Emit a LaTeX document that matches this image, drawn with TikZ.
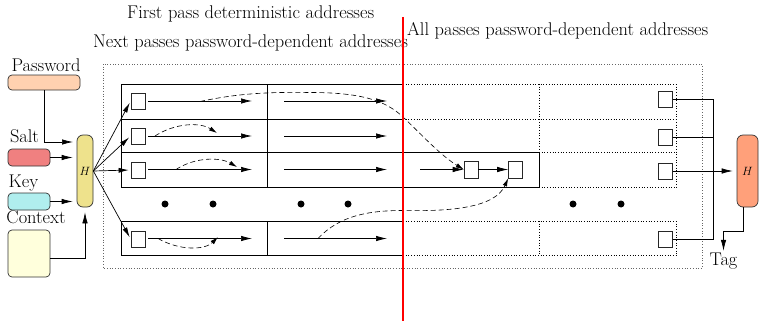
\documentclass[tikz,border=0pt]{standalone}
\usetikzlibrary{arrows.meta}
\definecolor{pwc}{HTML}{FFD1B0}
\definecolor{saltc}{HTML}{F08080}
\definecolor{keyc}{HTML}{B0EEEE}
\definecolor{ctxc}{HTML}{FFFFDC}
\definecolor{hac}{HTML}{EEE28C}
\definecolor{hbc}{HTML}{FFA07A}
\begin{document}
\begin{tikzpicture}[x=1pt,y=-1pt,
  lbl/.style={font=\fontsize{18.4}{22}\selectfont, inner sep=0pt, anchor=base},
  inbox/.style={draw=black!80, rounded corners=4pt, line width=0.7pt, inner sep=0pt},
  hbox/.style={draw=black!80, rounded corners=6pt, line width=0.7pt, inner sep=0pt, minimum height=72pt, font=\fontsize{12.5}{14}\selectfont},
  sq/.style={draw=black!85, line width=0.7pt, minimum width=14pt, minimum height=16pt, inner sep=0pt},
  arr/.style={-{Latex[length=11pt,width=5.5pt]}, line width=0.7pt},
  farr/.style={-{Latex[length=10pt,width=5pt]}, line width=0.7pt},
  darr/.style={-{Latex[length=8pt,width=4.5pt]}, dash pattern=on 5pt off 3pt, line width=0.6pt},
  sl/.style={line width=0.7pt},
  dl/.style={dotted, line width=0.7pt},
  bigdot/.style={circle, fill=black, minimum size=7pt, inner sep=0pt}
]
\useasboundingbox (0,0) rectangle (759,321);

% titles
\node[lbl, anchor=base west] (t1) at (127,18.5) {First pass deterministic addresses};
\node[lbl, anchor=base west] (t2) at (93,48) {Next passes password-dependent addresses};
\node[lbl, anchor=base west] (t3) at (407,35.5) {All passes password-dependent addresses};

% inputs
\node[lbl] (lpw) at (46,71) {Password};
\node[lbl] (lsalt) at (24.5,142) {Salt};
\node[lbl] (lkey) at (23.5,187) {Key};
\node[lbl] (lctx) at (36,223) {Context};
\node[inbox, fill=pwc, minimum width=72pt, minimum height=15pt] (pw) at (44,82.5) {};
\node[inbox, fill=saltc, minimum width=42pt, minimum height=17pt] (salt) at (29,157.5) {};
\node[inbox, fill=keyc, minimum width=42pt, minimum height=17pt] (key) at (29,201.5) {};
\node[inbox, fill=ctxc, minimum width=42pt, minimum height=47pt] (ctx) at (29,253.5) {};
\node[hbox, fill=hac, minimum width=16pt] (h1) at (85,171) {$H$};
\node[hbox, fill=hbc, minimum width=21pt] (h2) at (747.5,171) {$H$};

\coordinate (pwin) at (77,142);
\draw[arr, shorten >=4pt] (pw.south) |- (pwin);
\draw[arr, shorten >=4pt] (salt.east) -- (h1.west |- salt.east);
\draw[arr, shorten >=4pt] (key.east) -- (h1.west |- key.east);
\draw[arr, shorten >=5pt] ([yshift=-4.5pt]ctx.east) -| (h1.south);

% outer dotted frame
\draw[dotted, draw=black!60, line width=0.7pt] (103,64) rectangle (702,268);

% memory grid solid parts
\draw[sl] (121,84) -- (403,84);
\draw[sl] (121,119) -- (403,119);
\draw[sl] (121,152) -- (539,152);
\draw[sl] (121,187) -- (539,187);
\draw[sl] (121,221) -- (403,221);
\draw[sl] (121,255) -- (403,255);
\draw[sl] (121,84) -- (121,187);
\draw[sl] (121,221) -- (121,255);
\draw[sl] (267,84) -- (267,187);
\draw[sl] (267,221) -- (267,255);
\draw[sl] (539,152) -- (539,187);
% dotted parts
\draw[dl] (403,84) -- (676,84);
\draw[dl] (403,119) -- (676,119);
\draw[dl] (539,152) -- (676,152);
\draw[dl] (539,187) -- (676,187);
\draw[dl] (403,221) -- (676,221);
\draw[dl] (403,255) -- (676,255);
\draw[dl] (539,84) -- (539,152);
\draw[dl] (539,221) -- (539,255);
\draw[dl] (676,84) -- (676,187);
\draw[dl] (676,221) -- (676,255);

% first blocks
\node[sq] (a1) at (138,101) {};
\node[sq] (a2) at (138,136) {};
\node[sq] (a3) at (138,170) {};
\node[sq] (a4) at (138,239) {};
\foreach \n in {a1,a2,a3,a4} {\draw[farr, shorten >=2pt] (h1.east) -- (\n.west);}

% row arrows
\foreach \y/\n in {101/1,136/2,169.5/3,238.5/4} {
  \coordinate (p\n a) at (148,\y);
  \coordinate (p\n b) at (252,\y);
  \coordinate (p\n c) at (284,\y);
  \coordinate (p\n d) at (387,\y);
  \draw[arr] (p\n a) -- (p\n b);
  \draw[arr] (p\n c) -- (p\n d);
}

% third row extra blocks
\node[sq, minimum height=17pt] (b1) at (471,169.5) {};
\node[sq, minimum height=17pt] (b2) at (515.5,169.5) {};
\coordinate (b0) at (420,169.5);
\draw[arr] (b0) -- (b1.west);
\draw[arr] (b1.east) -- (b2.west);

% dashed references
\draw[darr] (200,101.5) .. controls (240,93) and (270,92) .. (310,92.5)
  .. controls (360,92.5) and (385,100) .. (403,117)
  .. controls (420,133) and (440,155) .. (b1.west);
\draw[darr] (155,136) .. controls (175,123) and (200,122) .. (217,133);
\draw[darr] (176,169.5) .. controls (195,157) and (220,157) .. (237,167);
\draw[darr] (158,238.5) .. controls (180,251) and (205,250) .. (218,237);
\draw[darr] (318,238.5) .. controls (340,215) and (370,210.5) .. (403,210.5)
  .. controls (450,211.5) and (495,208) .. (b2.south west);

% dots
\foreach \x [count=\i] in {165,213,301,348,573,621} {\node[bigdot] (d\i) at (\x,204) {};}

% last blocks
\node[sq] (r1) at (665.5,99.5) {};
\node[sq] (r2) at (665.5,137) {};
\node[sq] (r3) at (665.5,171) {};
\node[sq] (r4) at (665.5,239.5) {};
\coordinate (bus) at (713,239.5);
\draw[sl] (r1.east) -| (bus);
\draw[sl] (r4.east) -- (bus);
\draw[sl] (r2.east) -- (r2.east -| bus);
\draw[arr, shorten >=4pt] (r3.east) -- (h2.west |- r3.east);

% tag
\node[lbl] (tag) at (723.5,265.5) {Tag};
\coordinate (tk) at (743,231);
\draw[arr] ([xshift=-4.5pt]h2.south) -- (tk) -| ([yshift=2pt]tag.north);

% red separator
\draw[red, line width=2pt] (403,17) -- (403,321);
\end{tikzpicture}
\end{document}
